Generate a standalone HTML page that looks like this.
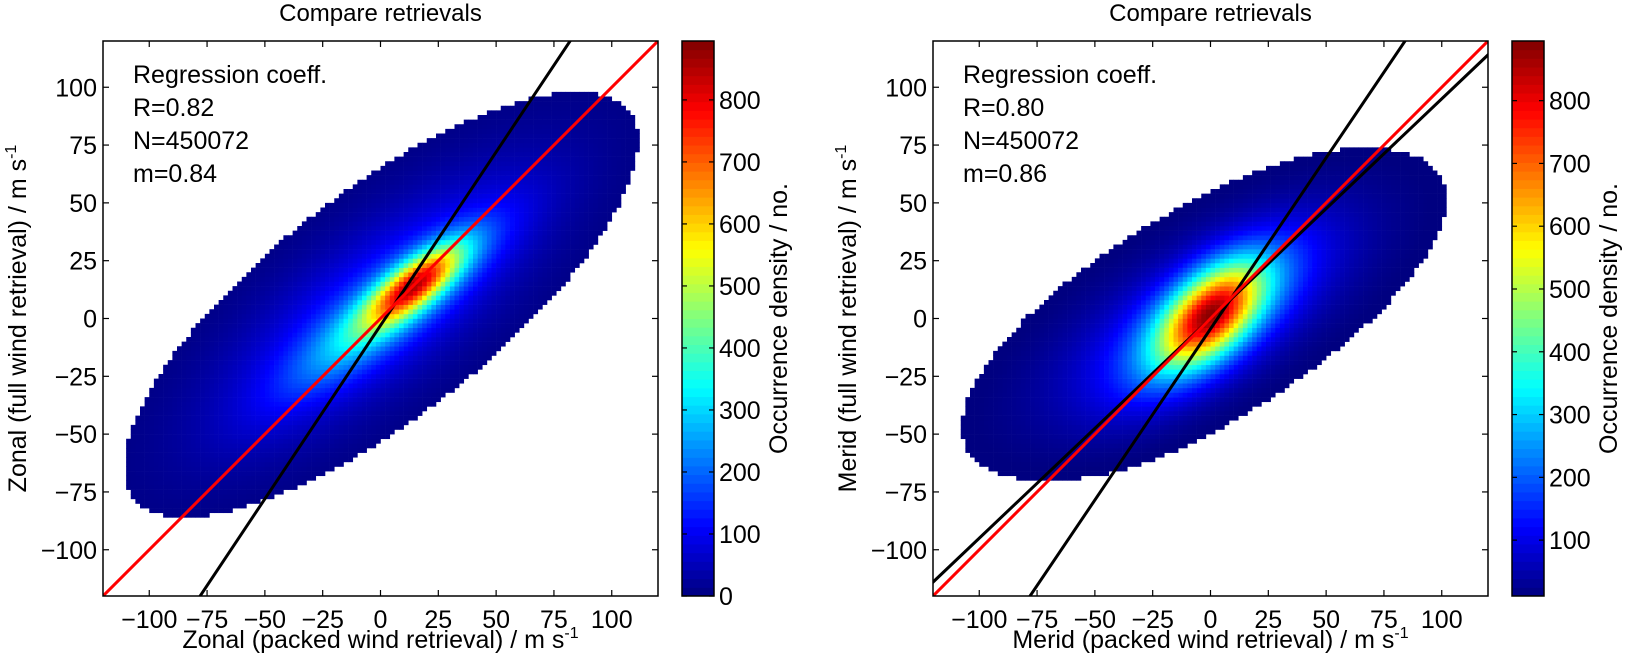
<!DOCTYPE html>
<html><head><meta charset="utf-8"><style>
html,body{margin:0;padding:0;background:#fff;overflow:hidden;}
svg{display:block;}
svg text{font-family:"Liberation Sans",sans-serif;fill:#000;}
</style></head><body>
<svg id="fig" width="1630" height="661" viewBox="0 0 1630 661" xmlns="http://www.w3.org/2000/svg"></svg>
<script>
// ---- data ----
const axisRange = [-120, 120];
const xTicks = [-100, -75, -50, -25, 0, 25, 50, 75, 100];
const yTicks = [-100, -75, -50, -25, 0, 25, 50, 75, 100];
const binSize = 2;
const leftStats = ["Regression coeff.", "R=0.82", "N=450072", "m=0.84"];
const rightStats = ["Regression coeff.", "R=0.80", "N=450072", "m=0.86"];
const leftCbarRange = [0, 895];
const rightCbarRange = [11, 895];
const leftCbarTicks = [0, 100, 200, 300, 400, 500, 600, 700, 800];
const rightCbarTicks = [100, 200, 300, 400, 500, 600, 700, 800];
// density components: [amplitude, centerX, centerY, angleDeg, sigmaAlong, sigmaPerp]
const leftComponents = [[500, 15, 15, 38, 17, 6], [240, 5, 5, 38, 35, 9], [150, 0, 6, 38, 56, 20]];
const rightComponents = [[500, 0, 2, 45, 18, 10], [260, 0, 0, 40, 30, 13], [130, -3, 2, 30, 50, 19]];
const displayThreshold = 8;
// lines: [slope, intercept]
const leftLines = {red: [1, 0], black: [[1.5, -3]]};
const rightLines = {red: [1, 0], black: [[1.48, -4.5], [0.95, 0]]};

const NS = "http://www.w3.org/2000/svg";
const svg = document.getElementById("fig");
function mk(tag, attrs, parent) {
  const e = document.createElementNS(NS, tag);
  for (const k in attrs) e.setAttribute(k, attrs[k]);
  (parent || svg).appendChild(e);
  return e;
}
function jet(t) {
  t = Math.max(0, Math.min(1, t));
  const r = Math.max(0, Math.min(1, 1.5 - Math.abs(4 * t - 3)));
  const g = Math.max(0, Math.min(1, 1.5 - Math.abs(4 * t - 2)));
  const b = Math.max(0, Math.min(1, 1.5 - Math.abs(4 * t - 1)));
  return `rgb(${Math.round(r * 255)},${Math.round(g * 255)},${Math.round(b * 255)})`;
}
function density(comps, x, y) {
  let s = 0;
  for (const c of comps) {
    const a = c[3] * Math.PI / 180, dx = x - c[1], dy = y - c[2];
    const u = dx * Math.cos(a) + dy * Math.sin(a), v = -dx * Math.sin(a) + dy * Math.cos(a);
    s += c[0] * Math.exp(-0.5 * (u * u / (c[4] * c[4]) + v * v / (c[5] * c[5])));
  }
  return s;
}

function panel(p) {
  const L = p.left, T = 41, W = 555, H = 555;
  const sx = v => L + (v - axisRange[0]) / (axisRange[1] - axisRange[0]) * W;
  const sy = v => T + H - (v - axisRange[0]) / (axisRange[1] - axisRange[0]) * H;
  const g = mk("g", {});
  
  
  const clipId = p.name + "-clip";
  const cp = mk("clipPath", {id: clipId}, g);
  mk("rect", {x: L, y: T, width: W, height: H}, cp);
  const hm = mk("g", {"clip-path": `url(#${clipId})`}, g);
  
  
  const [cmin, cmax] = p.cbar;
  for (let x = axisRange[0]; x < axisRange[1]; x += binSize) {
    for (let y = axisRange[0]; y < axisRange[1]; y += binSize) {
      const d = density(p.comps, x + binSize / 2, y + binSize / 2);
      if (d < displayThreshold) continue;
      const r = mk("rect", {x: sx(x), y: sy(y + binSize), width: sx(x + binSize) - sx(x) + 0.3, height: sy(y) - sy(y + binSize) + 0.3, fill: jet((d - cmin) / (cmax - cmin))}, hm);
      
      
    }
  }
  const lg = mk("g", {"clip-path": `url(#${clipId})`}, g);
  for (const bl of p.lines.black) {
    const ln = mk("line", {x1: sx(-200), y1: sy(bl[0] * -200 + bl[1]), x2: sx(200), y2: sy(bl[0] * 200 + bl[1]), stroke: "#000", "stroke-width": 3}, lg);
    
    
  }
  const rl = p.lines.red;
  const red = mk("line", {x1: sx(-200), y1: sy(rl[0] * -200 + rl[1]), x2: sx(200), y2: sy(rl[0] * 200 + rl[1]), stroke: "#f00", "stroke-width": 3}, lg);
  
  
  const fr = mk("rect", {x: L, y: T, width: W, height: H, fill: "none", stroke: "#000", "stroke-width": 1.5}, g);
  
  
  for (const v of xTicks) {
    const X = sx(v);
    mk("line", {x1: X, y1: T + H, x2: X, y2: T + H - 6, stroke: "#000", "stroke-width": 1.2}, g);
    mk("line", {x1: X, y1: T, x2: X, y2: T + 6, stroke: "#000", "stroke-width": 1.2}, g);
    const t = mk("text", {x: X, y: T + H + 32, "font-size": 25, "text-anchor": "middle"}, g);
    t.textContent = v < 0 ? "\u2212" + (-v) : String(v);
    
    
  }
  for (const v of yTicks) {
    const Y = sy(v);
    mk("line", {x1: L, y1: Y, x2: L + 6, y2: Y, stroke: "#000", "stroke-width": 1.2}, g);
    mk("line", {x1: L + W, y1: Y, x2: L + W - 6, y2: Y, stroke: "#000", "stroke-width": 1.2}, g);
    const t = mk("text", {x: L - 6, y: Y + 9, "font-size": 25, "text-anchor": "end"}, g);
    t.textContent = v < 0 ? "\u2212" + (-v) : String(v);
    
    
  }
  const tt = mk("text", {x: L + W / 2, y: 21, "font-size": 24, "text-anchor": "middle"}, g);
  tt.textContent = "Compare retrievals";
  
  
  p.stats.forEach((s, i) => {
    const t = mk("text", {x: L + 30, y: 83 + i * 33, "font-size": 25}, g);
    t.textContent = s;
    
    
  });
  const xl = mk("text", {x: L + W / 2, y: 648, "font-size": 25, "text-anchor": "middle"}, g);
  xl.innerHTML = p.xlabel + ' / m s<tspan font-size="16" dy="-10">-1</tspan>';
  
  
  const yl = mk("text", {x: 0, y: 0, "font-size": 25, "text-anchor": "middle", transform: `translate(${L - 77},${T + H / 2}) rotate(-90)`}, g);
  yl.innerHTML = p.ylabel + ' / m s<tspan font-size="16" dy="-10">-1</tspan>';
  
  
  const CL = L + W + 24, CW = 32;
  const cb = mk("g", {}, g);
  
  
  const n = 64;
  for (let i = 0; i < n; i++) {
    mk("rect", {x: CL, y: T + H - (i + 1) * H / n, width: CW, height: H / n + 0.5, fill: jet((i + 0.5) / n)}, cb);
  }
  mk("rect", {x: CL, y: T, width: CW, height: H, fill: "none", stroke: "#000", "stroke-width": 1.5}, cb);
  const cy = v => T + H - (v - cmin) / (cmax - cmin) * H;
  for (const v of p.cbarTicks) {
    const Y = cy(v);
    mk("line", {x1: CL, y1: Y, x2: CL + 5, y2: Y, stroke: "#000", "stroke-width": 1.2}, cb);
    mk("line", {x1: CL + CW, y1: Y, x2: CL + CW - 5, y2: Y, stroke: "#000", "stroke-width": 1.2}, cb);
    const t = mk("text", {x: CL + CW + 5, y: Y + 9, "font-size": 25}, cb);
    t.textContent = String(v);
    
    
  }
  const cl = mk("text", {x: 0, y: 0, "font-size": 25, "text-anchor": "middle", transform: `translate(${CL + CW + 73},${T + H / 2}) rotate(-90)`}, cb);
  cl.textContent = "Occurrence density / no.";
  
  
}

panel({name: "zonal", left: 103, comps: leftComponents, cbar: leftCbarRange, cbarTicks: leftCbarTicks, stats: leftStats, lines: leftLines,
  xlabel: "Zonal (packed wind retrieval)", ylabel: "Zonal (full wind retrieval)"});
panel({name: "merid", left: 933, comps: rightComponents, cbar: rightCbarRange, cbarTicks: rightCbarTicks, stats: rightStats, lines: rightLines,
  xlabel: "Merid (packed wind retrieval)", ylabel: "Merid (full wind retrieval)"});
</script>
</body></html>
